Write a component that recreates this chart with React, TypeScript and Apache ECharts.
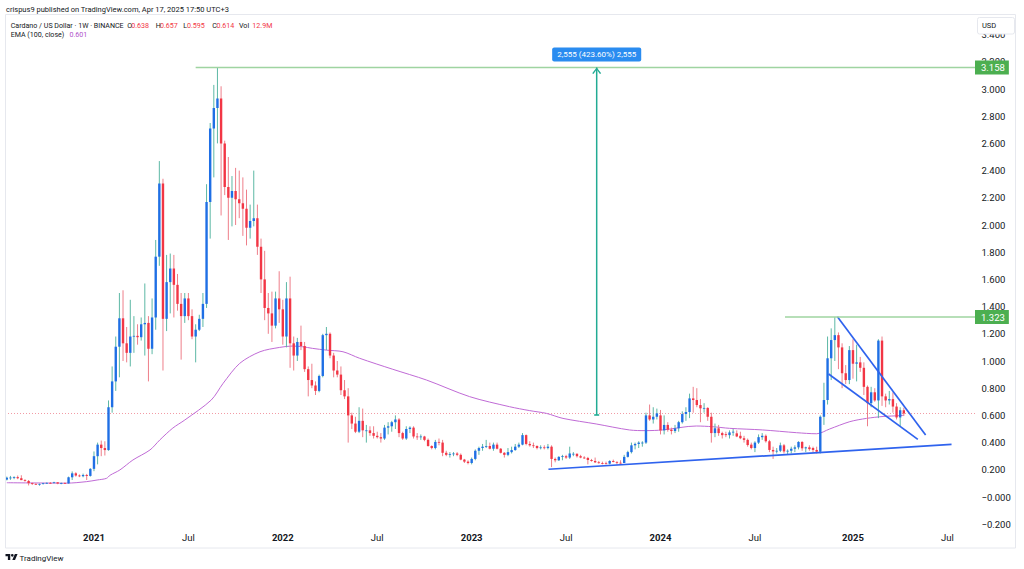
import React, { useEffect, useRef } from 'react';
import * as echarts from 'echarts';

// ---------- DATA ----------
// weekly candles, first bar week of 2020-07-20, each row [open, high, low, close]
const FIRST_WEEK = '2020-07-20';

const ohlc2020 = [
  [0.128, 0.150, 0.122, 0.142], [0.142, 0.155, 0.126, 0.143], [0.143, 0.152, 0.131, 0.146], [0.146, 0.158, 0.131, 0.138],
  [0.138, 0.160, 0.124, 0.124], [0.124, 0.131, 0.113, 0.118], [0.118, 0.125, 0.085, 0.102], [0.102, 0.106, 0.088, 0.096],
  [0.096, 0.102, 0.090, 0.094], [0.094, 0.099, 0.083, 0.096], [0.096, 0.104, 0.092, 0.101], [0.101, 0.107, 0.096, 0.104],
  [0.104, 0.110, 0.097, 0.103], [0.103, 0.112, 0.100, 0.108], [0.108, 0.109, 0.094, 0.099], [0.099, 0.106, 0.094, 0.103],
  [0.103, 0.108, 0.097, 0.100], [0.100, 0.150, 0.098, 0.145], [0.145, 0.188, 0.125, 0.174], [0.174, 0.182, 0.150, 0.158],
  [0.158, 0.166, 0.146, 0.153], [0.153, 0.172, 0.145, 0.162], [0.162, 0.170, 0.125, 0.155], [0.155, 0.212, 0.150, 0.207],
];
const ohlc2021 = [
  [0.207, 0.335, 0.190, 0.300], [0.300, 0.400, 0.240, 0.385], [0.385, 0.415, 0.300, 0.360], [0.360, 0.410, 0.305, 0.345],
  [0.345, 0.710, 0.340, 0.660], [0.660, 0.960, 0.620, 0.850], [0.850, 1.180, 0.780, 1.105], [1.105, 1.500, 0.880, 1.314],
  [1.314, 1.520, 1.000, 1.130], [1.130, 1.250, 0.990, 1.060], [1.060, 1.450, 0.960, 1.180], [1.180, 1.330, 1.060, 1.185],
  [1.185, 1.270, 1.120, 1.175], [1.175, 1.320, 1.150, 1.270], [1.270, 1.570, 1.040, 1.280], [1.280, 1.330, 0.850, 1.090],
  [1.090, 1.460, 1.050, 1.320], [1.320, 1.890, 1.230, 1.767], [1.767, 2.470, 1.700, 2.306], [2.306, 2.340, 0.930, 1.310],
  [1.310, 1.780, 1.220, 1.580], [1.580, 1.790, 1.350, 1.680], [1.680, 1.780, 1.320, 1.560], [1.560, 1.640, 1.370, 1.420],
  [1.420, 1.500, 1.010, 1.330], [1.330, 1.500, 1.280, 1.460], [1.460, 1.500, 1.300, 1.330], [1.330, 1.380, 1.160, 1.180],
  [1.180, 1.270, 0.990, 1.230], [1.230, 1.340, 1.220, 1.310], [1.310, 1.500, 1.250, 1.420], [1.420, 2.300, 1.390, 2.170],
  [2.170, 2.750, 1.900, 2.710], [2.710, 3.030, 2.350, 2.860], [2.860, 3.158, 2.600, 2.930], [2.930, 3.020, 2.070, 2.600],
  [2.600, 2.620, 2.220, 2.280], [2.280, 2.500, 1.890, 2.200], [2.200, 2.360, 1.990, 2.250], [2.250, 2.420, 2.000, 2.190],
  [2.190, 2.400, 2.050, 2.160], [2.160, 2.350, 1.920, 2.120], [2.120, 2.260, 1.850, 1.980], [1.980, 2.150, 1.900, 2.030],
  [2.030, 2.400, 1.990, 2.050], [2.050, 2.150, 1.780, 1.840], [1.840, 1.900, 1.500, 1.600], [1.600, 1.810, 1.300, 1.390],
  [1.390, 1.500, 1.200, 1.350], [1.350, 1.510, 1.140, 1.260], [1.260, 1.510, 1.240, 1.460], [1.460, 1.660, 1.280, 1.380],
];
const ohlc2022 = [
  [1.380, 1.450, 1.120, 1.180], [1.180, 1.580, 1.100, 1.460], [1.460, 1.620, 0.950, 1.130], [1.130, 1.180, 0.930, 1.040],
  [1.040, 1.170, 1.000, 1.140], [1.140, 1.260, 1.080, 1.110], [1.110, 1.140, 0.920, 0.940], [0.940, 0.960, 0.740, 0.860],
  [0.860, 0.980, 0.800, 0.820], [0.820, 0.850, 0.750, 0.780], [0.780, 0.900, 0.770, 0.890], [0.890, 1.200, 0.880, 1.190],
  [1.190, 1.250, 1.080, 1.200], [1.200, 1.210, 1.020, 1.040], [1.040, 1.060, 0.880, 0.930], [0.930, 1.000, 0.880, 0.900],
  [0.900, 0.960, 0.750, 0.785], [0.785, 0.860, 0.720, 0.740], [0.740, 0.800, 0.400, 0.600], [0.600, 0.620, 0.500, 0.540],
  [0.540, 0.590, 0.470, 0.480], [0.480, 0.660, 0.470, 0.560], [0.560, 0.650, 0.440, 0.490], [0.485, 0.530, 0.400, 0.490],
  [0.490, 0.520, 0.450, 0.470], [0.470, 0.520, 0.430, 0.450], [0.450, 0.480, 0.430, 0.440], [0.440, 0.470, 0.400, 0.430],
  [0.430, 0.530, 0.420, 0.510], [0.510, 0.550, 0.460, 0.520], [0.520, 0.560, 0.480, 0.550], [0.550, 0.600, 0.500, 0.570],
  [0.570, 0.580, 0.440, 0.470], [0.470, 0.480, 0.420, 0.430], [0.430, 0.520, 0.420, 0.500], [0.500, 0.520, 0.470, 0.510],
  [0.510, 0.520, 0.430, 0.445], [0.445, 0.470, 0.420, 0.440], [0.440, 0.460, 0.420, 0.445], [0.445, 0.450, 0.410, 0.420],
  [0.420, 0.430, 0.370, 0.375], [0.375, 0.380, 0.350, 0.360], [0.360, 0.420, 0.350, 0.405], [0.405, 0.430, 0.380, 0.400],
  [0.400, 0.420, 0.300, 0.325], [0.325, 0.340, 0.300, 0.310], [0.310, 0.330, 0.290, 0.315], [0.315, 0.330, 0.300, 0.320],
  [0.320, 0.330, 0.300, 0.310], [0.310, 0.320, 0.270, 0.275], [0.275, 0.280, 0.250, 0.260], [0.260, 0.270, 0.240, 0.250],
];
const ohlc2023 = [
  [0.250, 0.290, 0.240, 0.280], [0.280, 0.350, 0.270, 0.340], [0.340, 0.370, 0.310, 0.360], [0.360, 0.390, 0.340, 0.370],
  [0.370, 0.420, 0.360, 0.375], [0.375, 0.400, 0.350, 0.355], [0.355, 0.400, 0.340, 0.385], [0.385, 0.400, 0.350, 0.355],
  [0.355, 0.360, 0.320, 0.325], [0.325, 0.330, 0.290, 0.310], [0.310, 0.360, 0.300, 0.330], [0.330, 0.370, 0.320, 0.345],
  [0.345, 0.390, 0.340, 0.370], [0.370, 0.400, 0.360, 0.385], [0.385, 0.470, 0.380, 0.455], [0.455, 0.460, 0.380, 0.390],
  [0.390, 0.410, 0.370, 0.380], [0.380, 0.400, 0.360, 0.375], [0.375, 0.380, 0.350, 0.360], [0.360, 0.380, 0.350, 0.365],
  [0.365, 0.380, 0.350, 0.360], [0.360, 0.390, 0.350, 0.370], [0.370, 0.380, 0.220, 0.280], [0.280, 0.290, 0.255, 0.270],
  [0.270, 0.300, 0.265, 0.295], [0.295, 0.310, 0.270, 0.300], [0.300, 0.310, 0.280, 0.290], [0.290, 0.370, 0.280, 0.320],
  [0.315, 0.330, 0.300, 0.318], [0.318, 0.320, 0.290, 0.300], [0.300, 0.310, 0.285, 0.290], [0.290, 0.300, 0.280, 0.287],
  [0.287, 0.295, 0.240, 0.272], [0.272, 0.280, 0.260, 0.265], [0.265, 0.290, 0.250, 0.255], [0.255, 0.265, 0.245, 0.250],
  [0.250, 0.260, 0.240, 0.248], [0.248, 0.260, 0.240, 0.245], [0.245, 0.270, 0.240, 0.265], [0.265, 0.275, 0.255, 0.258],
  [0.258, 0.262, 0.240, 0.252], [0.252, 0.270, 0.245, 0.250], [0.250, 0.310, 0.250, 0.295], [0.295, 0.340, 0.290, 0.330],
  [0.330, 0.400, 0.320, 0.380], [0.380, 0.400, 0.350, 0.390], [0.390, 0.410, 0.360, 0.400], [0.395, 0.410, 0.370, 0.400],
  [0.400, 0.620, 0.390, 0.600], [0.600, 0.680, 0.560, 0.570], [0.570, 0.660, 0.540, 0.590], [0.590, 0.650, 0.570, 0.615],
];
const ohlc2024 = [
  [0.600, 0.640, 0.460, 0.490], [0.490, 0.600, 0.460, 0.530], [0.530, 0.550, 0.480, 0.495], [0.495, 0.510, 0.460, 0.485],
  [0.485, 0.530, 0.470, 0.505], [0.505, 0.560, 0.480, 0.550], [0.550, 0.630, 0.540, 0.610], [0.610, 0.660, 0.560, 0.625],
  [0.625, 0.760, 0.580, 0.725], [0.725, 0.810, 0.620, 0.713], [0.713, 0.800, 0.660, 0.676], [0.676, 0.720, 0.550, 0.652],
  [0.652, 0.690, 0.620, 0.655], [0.655, 0.660, 0.560, 0.590], [0.590, 0.620, 0.400, 0.470], [0.470, 0.540, 0.440, 0.505],
  [0.505, 0.530, 0.450, 0.470], [0.470, 0.480, 0.430, 0.455], [0.462, 0.480, 0.440, 0.455], [0.455, 0.490, 0.430, 0.475],
  [0.475, 0.500, 0.450, 0.480], [0.468, 0.490, 0.440, 0.445], [0.450, 0.480, 0.425, 0.432], [0.432, 0.450, 0.400, 0.420],
  [0.420, 0.430, 0.370, 0.382], [0.385, 0.400, 0.350, 0.360], [0.360, 0.410, 0.330, 0.400], [0.400, 0.460, 0.390, 0.440],
  [0.440, 0.470, 0.420, 0.450], [0.450, 0.460, 0.400, 0.410], [0.410, 0.420, 0.330, 0.346], [0.346, 0.370, 0.280, 0.335],
  [0.335, 0.360, 0.320, 0.340], [0.340, 0.400, 0.330, 0.380], [0.380, 0.390, 0.320, 0.335], [0.335, 0.350, 0.310, 0.340],
  [0.340, 0.370, 0.320, 0.355], [0.355, 0.380, 0.330, 0.365], [0.365, 0.410, 0.350, 0.405], [0.405, 0.410, 0.340, 0.358],
  [0.358, 0.370, 0.330, 0.365], [0.365, 0.380, 0.340, 0.352], [0.360, 0.370, 0.330, 0.346], [0.346, 0.370, 0.320, 0.333],
  [0.333, 0.600, 0.320, 0.590], [0.590, 0.840, 0.530, 0.713], [0.713, 1.180, 0.680, 1.020], [1.020, 1.240, 0.860, 1.154],
  [1.154, 1.323, 1.000, 1.190], [1.190, 1.210, 0.940, 1.100], [1.100, 1.130, 0.800, 0.910], [0.910, 0.970, 0.830, 0.860],
  [0.860, 1.110, 0.830, 1.080],
];
const ohlc2025 = [
  [1.080, 1.160, 0.870, 0.980], [0.980, 1.120, 0.850, 0.990], [0.990, 1.030, 0.920, 0.950], [0.950, 0.990, 0.750, 0.810],
  [0.810, 0.820, 0.520, 0.690], [0.690, 0.810, 0.660, 0.770], [0.770, 0.800, 0.700, 0.710], [0.710, 1.160, 0.580, 1.150],
  [1.150, 1.180, 0.670, 0.740], [0.740, 0.760, 0.660, 0.710], [0.710, 0.780, 0.680, 0.720], [0.720, 0.770, 0.620, 0.665],
  [0.665, 0.690, 0.570, 0.585], [0.585, 0.660, 0.520, 0.638], [0.638, 0.657, 0.595, 0.614],
];
const lastVolume = '12.9M';

// EMA (100, close): [date, value]
const emaPoints: [string, number][] = [
  ['2020-07-20', 0.105], ['2020-11-13', 0.102], ['2020-12-21', 0.113], ['2021-01-10', 0.125], ['2021-01-28', 0.137],
  ['2021-02-04', 0.160], ['2021-02-23', 0.199], ['2021-03-20', 0.272], ['2021-04-22', 0.346], ['2021-05-11', 0.420],
  ['2021-06-05', 0.507], ['2021-06-28', 0.566], ['2021-08-18', 0.713], ['2021-09-10', 0.836], ['2021-10-12', 0.983],
  ['2021-11-20', 1.068], ['2021-12-28', 1.100], ['2022-01-22', 1.110], ['2022-02-10', 1.105], ['2022-03-01', 1.093],
  ['2022-03-28', 1.080], ['2022-04-29', 1.068], ['2022-05-31', 1.020], ['2022-08-03', 0.939], ['2022-10-07', 0.860],
  ['2022-12-29', 0.738], ['2023-03-16', 0.664], ['2023-04-24', 0.635], ['2023-05-26', 0.615], ['2023-06-27', 0.578],
  ['2023-08-30', 0.537], ['2023-11-02', 0.493], ['2023-12-04', 0.488], ['2024-01-05', 0.493], ['2024-03-10', 0.522],
  ['2024-04-10', 0.517], ['2024-05-13', 0.505], ['2024-07-16', 0.493], ['2024-09-19', 0.473], ['2024-10-28', 0.465],
  ['2024-11-22', 0.500], ['2024-12-31', 0.554], ['2025-02-01', 0.578], ['2025-03-05', 0.592], ['2025-04-06', 0.598],
  ['2025-04-14', 0.601],
];

// time-axis labels: [first weekly bar, text]
const timeTicks: [string, string][] = [
  ['2021-01-04', '2021'], ['2021-07-05', 'Jul'], ['2022-01-03', '2022'], ['2022-07-04', 'Jul'], ['2023-01-02', '2023'],
  ['2023-07-03', 'Jul'], ['2024-01-01', '2024'], ['2024-07-01', 'Jul'], ['2025-01-06', '2025'], ['2025-07-07', 'Jul'],
];

// drawings
const athLevel = 3.158;
const athLineStart = '2021-07-19';
const recentHigh = 1.323;
const recentHighStart = '2024-08-28';
const measureDate = '2023-08-31';
const measureFrom = 0.603;
const measureTo = 3.158;
const measureLabel = '2,555 (423.60%) 2,555';
const supportLine: [string, number][] = [['2023-05-30', 0.204], ['2025-07-15', 0.387]];
const wedgeUpper: [string, number][] = [['2024-12-07', 1.326], ['2025-05-26', 0.456]];
const wedgeLower: [string, number][] = [['2024-11-20', 0.904], ['2025-05-11', 0.424]];

// ---------- helpers / styles ----------
const DAY = 86400000;
const T0 = Date.parse(FIRST_WEEK + 'T00:00:00Z');
const wk = (d: string) => (Date.parse(d + 'T00:00:00Z') - T0) / (7 * DAY);

const VIEW_START = -0.5;
const VIEW_END = 266.6;

const FONT = 'Roboto, "Liberation Sans", Arial, sans-serif';
const TEXT = '#131722';
const BODY_UP = '#1f6fe5';
const WICK_UP = '#5db8a5';
const BODY_DOWN = '#f23645';
const WICK_DOWN = '#ee7f8a';
const EMA_COLOR = '#c06bd6';
const TREND = '#2f63ee';
const GREEN_LINE = '#9fd4a1';
const GREEN_TAG = '#4caf50';

const TV_PATH =
  'M14 22H7V11H0V4h14v18zM28 22h-8l7.5-18h8L28 22zM16 8a4 4 0 1 0 8 0a4 4 0 1 0 -8 0z';

export default function App() {
  const ref = useRef<HTMLDivElement>(null);

  useEffect(() => {
    if (!ref.current) return;
    try {
      echarts.graphic.registerShape('tvlogo', echarts.graphic.extendPath(TV_PATH, {}));
    } catch (e) {
      /* already registered */
    }
    const chart = echarts.init(ref.current, undefined, { renderer: 'svg' });

    const weeks = [...ohlc2020, ...ohlc2021, ...ohlc2022, ...ohlc2023, ...ohlc2024, ...ohlc2025];
    const candles = weeks.map((d, i) => [i, d[0], d[1], d[2], d[3]]);
    const last = weeks[weeks.length - 1];
    const lastClose = last[3];
    const emaLast = emaPoints[emaPoints.length - 1][1];

    const tickVals = timeTicks.map((t) => wk(t[0]));
    const fmtTime = (v: number) => {
      const t = timeTicks.find((tt) => Math.abs(wk(tt[0]) - v) < 0.01);
      if (!t) return '';
      return /^\d{4}$/.test(t[1]) ? `{y|${t[1]}}` : `{m|${t[1]}}`;
    };
    const fmtPrice = (v: number) =>
      v < 0.0001 ? '\u2212' + Math.abs(v).toFixed(3) : v.toFixed(3);

    const lineSeries = (pts: [number, number][], color: string, width: number, extra: any = {}) => ({
      type: 'line',
      data: pts,
      symbol: 'none',
      silent: true,
      lineStyle: { color, width },
      z: 5,
      ...extra,
    });

    const tag = (txt: string) => ({
      show: true,
      formatter: () => txt,
      backgroundColor: GREEN_TAG,
      color: '#ffffff',
      fontSize: 9.5,
      fontFamily: FONT,
      padding: [2, 4, 2, 6],
      distance: 0,
    });

    const mx = wk(measureDate);

    const headerY1 = 9;
    const headerY2 = 25;
    const headerY3 = 34;
    const txt = (text: string, x: number, y: number, fill: string, size = 7.1, weight: any = 'normal') => ({
      type: 'text',
      x,
      y,
      silent: true,
      z: 100,
      style: {
        text,
        fill,
        fontSize: size,
        fontFamily: FONT,
        fontWeight: weight,
        textVerticalAlign: 'middle',
        verticalAlign: 'middle',
      },
    });

    const option: any = {
      animation: false,
      backgroundColor: '#ffffff',
      textStyle: { fontFamily: FONT },
      grid: { left: 5, right: 49, top: 34.6, bottom: 44.8 },
      xAxis: {
        type: 'value',
        min: VIEW_START,
        max: VIEW_END,
        axisLine: { show: false },
        axisTick: { show: false },
        splitLine: { show: false },
        axisLabel: {
          customValues: tickVals,
          formatter: fmtTime,
          margin: 8,
          color: TEXT,
          fontSize: 9.5,
          fontFamily: FONT,
          rich: {
            y: { fontWeight: 'bold', fontSize: 9.5, color: TEXT, fontFamily: FONT },
            m: { fontSize: 9.5, color: TEXT, fontFamily: FONT },
          },
        },
      },
      yAxis: {
        type: 'value',
        position: 'right',
        min: -0.2,
        max: 3.4,
        interval: 0.2,
        axisLine: { show: false },
        axisTick: { show: false },
        splitLine: { show: false },
        axisLabel: { formatter: fmtPrice, margin: 6.5, color: TEXT, fontSize: 9.5, fontFamily: FONT },
      },
      series: [
        lineSeries([[VIEW_START, lastClose], [VIEW_END, lastClose]], '#f29aa4', 1, {
          lineStyle: { color: '#f29aa4', width: 1, type: [1, 2] },
          z: 1,
        }),
        lineSeries(emaPoints.map(([d, v]) => [wk(d), v] as [number, number]), EMA_COLOR, 1, {
          smooth: 0.3,
          z: 2,
        }),
        {
          type: 'custom',
          data: candles,
          encode: { x: 0, y: [1, 2, 3, 4] },
          clip: true,
          silent: true,
          z: 3,
          renderItem: (params: any, api: any) => {
            const x = api.value(0);
            const o = api.value(1);
            const h = api.value(2);
            const l = api.value(3);
            const c = api.value(4);
            const top = api.coord([x, Math.max(o, c)]);
            const bot = api.coord([x, Math.min(o, c)]);
            const hi = api.coord([x, h]);
            const lo = api.coord([x, l]);
            const w = api.size([1, 0])[0] * 0.66;
            const up = c >= o;
            return {
              type: 'group',
              children: [
                {
                  type: 'line',
                  shape: { x1: hi[0], y1: hi[1], x2: lo[0], y2: lo[1] },
                  style: { stroke: up ? WICK_UP : WICK_DOWN, lineWidth: 1 },
                },
                {
                  type: 'rect',
                  shape: { x: top[0] - w / 2, y: top[1], width: w, height: Math.max(bot[1] - top[1], 0.8) },
                  style: { fill: up ? BODY_UP : BODY_DOWN },
                },
              ],
            };
          },
        },
        lineSeries([[wk(athLineStart), athLevel], [VIEW_END, athLevel]], GREEN_LINE, 1.6, {
          endLabel: tag(athLevel.toFixed(3)),
          z: 6,
        }),
        lineSeries([[wk(recentHighStart), recentHigh], [VIEW_END, recentHigh]], GREEN_LINE, 1.6, {
          endLabel: tag(recentHigh.toFixed(3)),
          z: 6,
        }),
        lineSeries(supportLine.map(([d, v]) => [wk(d), v] as [number, number]), TREND, 1.7),
        lineSeries(wedgeUpper.map(([d, v]) => [wk(d), v] as [number, number]), TREND, 1.7),
        lineSeries(wedgeLower.map(([d, v]) => [wk(d), v] as [number, number]), TREND, 1.7),
        {
          type: 'line',
          silent: true,
          z: 7,
          showSymbol: true,
          showAllSymbol: true,
          lineStyle: { color: '#22ab94', width: 1.5 },
          itemStyle: { color: '#22ab94' },
          data: [
            { value: [mx, measureFrom], symbol: 'rect', symbolSize: [5, 1.6] },
            {
              value: [mx, measureTo],
              symbol: 'path://M0,8 L5,0 L10,8 L8.6,9 L5,2.8 L1.4,9 Z',
              symbolSize: [9, 6.5],
              symbolOffset: [0, 3.2],
              label: {
                show: true,
                position: 'top',
                distance: 6,
                formatter: () => measureLabel,
                backgroundColor: '#2a8cf0',
                color: '#ffffff',
                fontSize: 8,
                fontFamily: FONT,
                padding: [3, 5],
                borderRadius: 2,
              },
            },
          ],
        },
      ],
      graphic: [
        {
          type: 'rect',
          silent: true,
          z: 50,
          shape: { x: 5.5, y: 14.5, width: 1010, height: 533.5 },
          style: { fill: 'none', stroke: '#e6e8ee', lineWidth: 1 },
        },
        txt('crispus9 published on TradingView.com, Apr 17, 2025 17:50 UTC+3', 6, headerY1, TEXT, 7.5),
        txt('Cardano / US Dollar \u00b7 1W \u00b7 BINANCE', 10.7, headerY2, TEXT),
        txt('O', 127.3, headerY2, TEXT),
        txt(last[0].toFixed(3), 131.2, headerY2, BODY_DOWN),
        txt('H', 155.7, headerY2, TEXT),
        txt(last[1].toFixed(3), 159.9, headerY2, BODY_DOWN),
        txt('L', 183.3, headerY2, TEXT),
        txt(last[2].toFixed(3), 187, headerY2, BODY_DOWN),
        txt('C', 212.3, headerY2, TEXT),
        txt(lastClose.toFixed(3), 216.4, headerY2, BODY_DOWN),
        txt('Vol', 239, headerY2, TEXT),
        txt(lastVolume, 252.3, headerY2, BODY_DOWN),
        txt('EMA (100, close)', 10.7, headerY3, TEXT),
        txt(emaLast.toFixed(3), 69.5, headerY3, '#b052ca'),
        {
          type: 'rect',
          silent: true,
          z: 100,
          shape: { x: 977.5, y: 17.5, width: 37, height: 16.5, r: 2 },
          style: { fill: '#ffffff', stroke: '#e6e8ee', lineWidth: 1 },
        },
        txt('USD', 982, 25.5, TEXT, 7.5),
        {
          type: 'tvlogo',
          x: 5.5,
          y: 552.6,
          scaleX: 0.34,
          scaleY: 0.34,
          silent: true,
          z: 100,
          style: { fill: TEXT },
        },
        txt('TradingView', 19.5, 558, TEXT, 8),
      ],
    };

    chart.setOption(option);
    return () => chart.dispose();
  }, []);

  return (
    <div
      ref={ref}
      style={{ position: 'fixed', left: 0, top: 0, width: 1024, height: 569, background: '#ffffff' }}
    />
  );
}
